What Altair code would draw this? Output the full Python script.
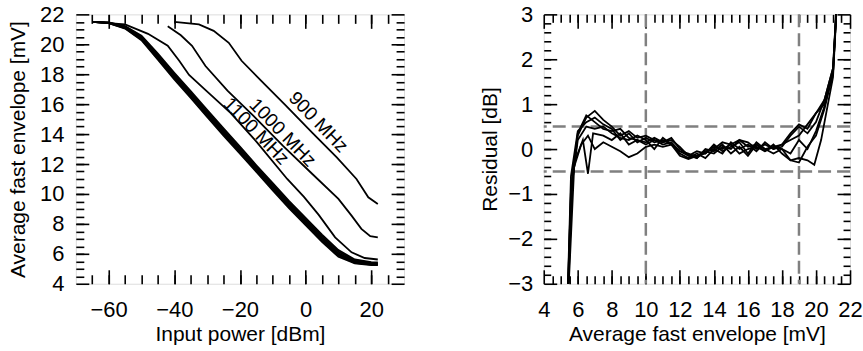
import altair as alt
import pandas as pd

FONT = "Liberation Sans"

# ---------------- left panel: average fast envelope vs input power ----------------
bundle_x = [-65, -60, -55, -50, -45, -40, -35, -30, -25, -20, -15, -10, -5, 0, 5, 10, 15, 20, 22]
bundle_1 = [21.5, 21.46, 21.22, 20.58, 19.38, 18.1, 16.87, 15.62, 14.38, 13.17, 11.92, 10.72, 9.52, 8.4, 7.28, 6.25, 5.62, 5.45, 5.42]
bundle_2 = [21.5, 21.45, 21.18, 20.5, 19.28, 18.0, 16.77, 15.52, 14.27, 13.07, 11.82, 10.62, 9.42, 8.3, 7.18, 6.15, 5.56, 5.4, 5.38]
bundle_3 = [21.5, 21.44, 21.15, 20.44, 19.2, 17.92, 16.67, 15.42, 14.17, 12.97, 11.72, 10.52, 9.32, 8.2, 7.08, 6.05, 5.5, 5.36, 5.34]
bundle_4 = [21.5, 21.43, 21.12, 20.38, 19.12, 17.82, 16.57, 15.32, 14.07, 12.87, 11.62, 10.42, 9.22, 8.1, 6.98, 5.96, 5.45, 5.32, 5.3]
bundle_5 = [21.5, 21.42, 21.08, 20.32, 19.04, 17.74, 16.49, 15.22, 13.99, 12.78, 11.54, 10.32, 9.12, 8.0, 6.88, 5.88, 5.4, 5.28, 5.27]
bundle_6 = [21.5, 21.41, 21.05, 20.27, 18.97, 17.66, 16.42, 15.14, 13.9, 12.7, 11.47, 10.24, 9.04, 7.92, 6.8, 5.8, 5.36, 5.25, 5.24]

f1100_x = [-65, -55, -48, -42, -38.5, -35.5, -30.8, -22.8, -14.8, -5.6, -0.5, 4, 9, 14, 18, 22]
f1100_y = [21.5, 21.33, 20.7, 19.9, 18.9, 17.95, 17.0, 15.4, 13.45, 11.0, 9.8, 8.6, 7.1, 6.1, 5.72, 5.62]

f1000_x = [-42, -38, -34.6, -30.5, -23.8, -15.8, -6.8, 1.5, 10, 14, 17, 19.7, 22]
f1000_y = [21.2, 20.6, 19.9, 18.55, 16.9, 15.2, 13.2, 11.45, 9.67, 8.55, 7.67, 7.18, 7.1]

f900_x = [-40, -32.5, -28, -23.4, -19.5, -13.5, -6.0, 2.0, 9.5, 15.5, 19.1, 22]
f900_y = [21.5, 21.33, 20.9, 20.1, 18.9, 17.55, 15.9, 14.1, 12.45, 11.0, 9.78, 9.33]

label_text = ["900 MHz", "1000 MHz", "1100 MHz"]
label_x = [3.9, -7.0, -15.1]
label_y = [14.8, 14.1, 14.2]

left_x_domain = [-70, 30]
left_y_domain = [4, 22]
left_x_major = [-60, -40, -20, 0, 20]
left_x_minor = [-65, -60, -55, -50, -45, -40, -35, -30, -25, -20, -15, -10, -5, 0, 5, 10, 15, 20, 25]
left_y_major = [4, 6, 8, 10, 12, 14, 16, 18, 20, 22]
left_y_minor = [4.5, 5, 5.5, 6, 6.5, 7, 7.5, 8, 8.5, 9, 9.5, 10, 10.5, 11, 11.5, 12, 12.5, 13, 13.5,
                14, 14.5, 15, 15.5, 16, 16.5, 17, 17.5, 18, 18.5, 19, 19.5, 20, 20.5, 21, 21.5]

# ---------------- right panel: residual vs average fast envelope ----------------
rA_x = [5.35, 5.6, 6.0, 6.5, 7.0, 7.5, 8.0, 8.5, 9.0, 9.5, 10.0, 10.5, 11.0, 11.5, 12.0, 12.5, 13.0, 13.5, 14.0, 14.5, 15.0, 15.5, 16.0, 16.5, 17.0, 17.5, 18.0, 18.5, 19.0, 19.5, 20.0, 20.5, 21.0, 21.4]
rA_y = [-4.0, -1.0, 0.3, 0.7, 0.85, 0.65, 0.5, 0.3, 0.4, 0.25, 0.3, 0.2, 0.15, 0.25, 0.0, -0.12, -0.15, -0.05, -0.1, 0.05, 0.0, 0.2, 0.05, 0.1, -0.05, 0.05, 0.1, 0.35, 0.55, 0.45, 0.8, 1.0, 1.7, 4.5]
rB_x = [5.35, 5.6, 6.0, 6.5, 7.0, 7.5, 8.0, 8.5, 9.0, 9.5, 10.0, 10.5, 11.0, 11.5, 12.0, 12.5, 13.0, 13.5, 14.0, 14.5, 15.0, 15.5, 16.0, 16.5, 17.0, 17.5, 18.0, 18.5, 19.0, 19.5, 20.0, 20.5, 21.0, 21.4]
rB_y = [-4.0, -0.6, 0.4, 0.6, 0.7, 0.55, 0.45, 0.2, 0.35, 0.15, 0.25, 0.15, 0.2, 0.1, -0.1, -0.2, -0.1, -0.2, 0.0, -0.1, 0.15, 0.0, 0.1, -0.05, 0.15, 0.0, 0.05, 0.3, 0.5, 0.35, 0.6, 1.1, 1.8, 4.5]
rC_x = [5.35, 5.8, 6.3, 6.6, 6.9, 7.5, 8.0, 8.5, 9.0, 9.5, 10.0, 10.5, 11.0, 11.5, 12.0, 12.5, 13.0, 13.5, 14.0, 14.5, 15.0, 15.5, 16.0, 16.5, 17.0, 17.5, 18.0, 18.5, 19.0, 19.5, 20.0, 20.5, 21.0, 21.4]
rC_y = [-4.0, -0.3, 0.2, -0.55, 0.35, 0.3, 0.2, 0.35, 0.1, 0.2, 0.1, 0.2, 0.1, 0.15, -0.05, -0.1, -0.2, 0.0, -0.05, 0.1, -0.1, 0.05, -0.15, 0.1, 0.0, -0.1, 0.0, -0.1, 0.2, 0.0, 0.4, 0.95, 1.7, 4.5]
rD_x = [5.35, 5.7, 6.2, 6.6, 7.0, 7.5, 8.0, 8.5, 9.0, 9.5, 10.0, 10.5, 11.0, 11.5, 12.0, 12.5, 13.0, 13.5, 14.0, 14.5, 15.0, 15.5, 16.0, 16.5, 17.0, 17.5, 18.0, 18.5, 19.0, 19.5, 19.9, 20.3, 20.7, 21.0, 21.4]
rD_y = [-4.0, -0.5, 0.1, 0.3, 0.0, 0.15, 0.05, -0.05, -0.18, -0.1, 0.05, 0.1, 0.05, 0.1, -0.15, -0.22, -0.15, -0.1, 0.05, 0.0, 0.1, -0.1, 0.0, 0.05, -0.05, 0.1, -0.1, -0.25, -0.2, -0.25, -0.35, 0.2, 1.0, 1.6, 4.5]
rE_x = [5.35, 5.65, 6.0, 6.5, 7.0, 7.5, 8.0, 8.5, 9.0, 9.5, 10.0, 10.5, 11.0, 11.5, 12.0, 12.5, 13.0, 13.5, 14.0, 14.5, 15.0, 15.5, 16.0, 16.5, 17.0, 17.5, 18.0, 18.5, 19.0, 19.5, 20.0, 20.5, 21.0, 21.4]
rE_y = [-4.0, -0.8, 0.2, 0.5, 0.45, 0.5, 0.35, 0.25, 0.2, 0.3, 0.2, 0.0, 0.25, 0.1, -0.05, -0.15, -0.05, -0.1, 0.1, -0.05, 0.05, 0.15, -0.1, 0.15, 0.0, 0.05, 0.0, -0.25, -0.3, 0.05, 0.3, 0.9, 1.7, 4.5]
rF_x = [5.35, 5.6, 6.0, 6.5, 7.0, 7.5, 8.0, 8.5, 9.0, 9.5, 10.0, 10.5, 11.0, 11.5, 12.0, 12.5, 13.0, 13.5, 14.0, 14.5, 15.0, 15.5, 16.0, 16.5, 17.0, 17.5, 18.0, 18.5, 19.0, 19.5, 20.0, 20.5, 21.0, 21.4]
rF_y = [-4.0, -0.9, 0.35, 0.75, 0.6, 0.45, 0.4, 0.45, 0.25, 0.2, 0.15, 0.25, 0.15, 0.2, 0.05, -0.15, -0.2, -0.05, 0.0, 0.15, 0.1, 0.2, 0.15, 0.0, 0.1, 0.0, 0.1, 0.2, 0.3, 0.55, 0.8, 1.1, 1.8, 4.5]

guide_x = [10, 19]
guide_y = [-0.5, 0.5]

right_x_domain = [4, 22]
right_y_domain = [-3, 3]
right_x_major = [4, 6, 8, 10, 12, 14, 16, 18, 20, 22]
right_x_minor = [4.5, 5, 5.5, 6, 6.5, 7, 7.5, 8, 8.5, 9, 9.5, 10, 10.5, 11, 11.5, 12, 12.5, 13, 13.5,
                 14, 14.5, 15, 15.5, 16, 16.5, 17, 17.5, 18, 18.5, 19, 19.5, 20, 20.5, 21, 21.5]
right_y_major = [-3, -2, -1, 0, 1, 2, 3]
right_y_minor = [-2.8, -2.6, -2.4, -2.2, -2, -1.8, -1.6, -1.4, -1.2, -1, -0.8, -0.6, -0.4, -0.2, 0,
                 0.2, 0.4, 0.6, 0.8, 1, 1.2, 1.4, 1.6, 1.8, 2, 2.2, 2.4, 2.6, 2.8]


def long_df(curves):
    rows = []
    for name, xs, ys in curves:
        for xv, yv in zip(xs, ys):
            rows.append({"curve": name, "x": xv, "y": yv})
    return pd.DataFrame(rows)


left_df = long_df([
    ("b1", bundle_x, bundle_1), ("b2", bundle_x, bundle_2), ("b3", bundle_x, bundle_3),
    ("b4", bundle_x, bundle_4), ("b5", bundle_x, bundle_5), ("b6", bundle_x, bundle_6),
    ("1100", f1100_x, f1100_y), ("1000", f1000_x, f1000_y), ("900", f900_x, f900_y),
])
label_df = pd.DataFrame({"text": label_text, "x": label_x, "y": label_y})

right_df = long_df([
    ("A", rA_x, rA_y), ("B", rB_x, rB_y), ("C", rC_x, rC_y),
    ("D", rD_x, rD_y), ("E", rE_x, rE_y), ("F", rF_x, rF_y),
])
vguide_df = pd.DataFrame({"x": guide_x})
hguide_df = pd.DataFrame({"y": guide_y})


def tick_axis(orient, values, size, labels=False, title=None, label_pad=0, title_pad=0):
    kw = dict(orient=orient, values=values, tickSize=size, offset=-size, domain=False,
              grid=False, ticks=True, tickColor="black", tickWidth=1.6, labels=labels,
              title=title)
    if labels:
        kw.update(labelFlush=False, labelOverlap=False, labelFont=FONT, labelFontSize=22,
                  labelColor="black", labelPadding=label_pad)
    if title:
        kw.update(titleFont=FONT, titleFontSize=21, titleFontWeight="normal",
                  titleColor="black", titlePadding=title_pad)
    return alt.Axis(**kw)


def panel(df, extra_under, extra_over, xdom, ydom, xmaj, xmin, ymaj, ymin, xtitle, ytitle,
          w, h, xt, yt, ylab_pad, ytitle_pad):
    xs = alt.Scale(domain=xdom, nice=False, zero=False)
    ys = alt.Scale(domain=ydom, nice=False, zero=False)
    base = alt.Chart(df)
    lines = base.mark_line(color="black", strokeWidth=1.8, clip=True).encode(
        x=alt.X("x:Q", scale=xs, axis=tick_axis("bottom", xmaj, xt[0], True, xtitle, 16, 3)),
        y=alt.Y("y:Q", scale=ys, axis=tick_axis("left", ymaj, yt[0], True, ytitle, ylab_pad, ytitle_pad)),
        detail="curve:N",
    )
    ghost = base.mark_point(opacity=0, clip=True)
    minor_bl = ghost.encode(
        x=alt.X("x:Q", scale=xs, axis=tick_axis("bottom", xmin, xt[1])),
        y=alt.Y("y:Q", scale=ys, axis=tick_axis("left", ymin, yt[1])),
    )
    major_tr = ghost.encode(
        x=alt.X("x:Q", scale=xs, axis=tick_axis("top", xmaj, xt[0])),
        y=alt.Y("y:Q", scale=ys, axis=tick_axis("right", ymaj, yt[0])),
    )
    minor_tr = ghost.encode(
        x=alt.X("x:Q", scale=xs, axis=tick_axis("top", xmin, xt[1])),
        y=alt.Y("y:Q", scale=ys, axis=tick_axis("right", ymin, yt[1])),
    )
    layers = list(extra_under(xs, ys)) + [lines, minor_bl, major_tr, minor_tr] + list(extra_over(xs, ys))
    return alt.layer(*layers).resolve_axis(x="independent", y="independent").properties(width=w, height=h)


def left_over(xs, ys):
    txt = alt.Chart(label_df).mark_text(angle=46, font=FONT, fontSize=19, color="black",
                                        align="center", baseline="middle").encode(
        x=alt.X("x:Q", scale=xs, axis=None),
        y=alt.Y("y:Q", scale=ys, axis=None),
        text="text:N",
    )
    return [txt]


def right_under(xs, ys):
    v = alt.Chart(vguide_df).mark_rule(color="#808080", strokeWidth=2.5, strokeDash=[13, 6]).encode(
        x=alt.X("x:Q", scale=xs, axis=None))
    hz = alt.Chart(hguide_df).mark_rule(color="#808080", strokeWidth=2.5, strokeDash=[13, 6]).encode(
        y=alt.Y("y:Q", scale=ys, axis=None))
    return [v, hz]


def nothing(xs, ys):
    return []


left = panel(left_df, nothing, left_over, left_x_domain, left_y_domain, left_x_major, left_x_minor,
             left_y_major, left_y_minor, "Input power [dBm]", "Average fast envelope [mV]",
             329, 270, (14, 9), (13, 8), 12, 11)
right = panel(right_df, right_under, nothing, right_x_domain, right_y_domain, right_x_major, right_x_minor,
              right_y_major, right_y_minor, "Average fast envelope [mV]", "Residual [dB]",
              307, 270, (14, 8), (13, 7), 11, 7)

chart = alt.hconcat(left, right, spacing=73).properties(
    padding={"left": 7, "top": 2, "right": 0, "bottom": 0}
).configure_view(stroke="black", strokeWidth=2).configure(background="white")

chart.save("out.html", embed_options={"renderer": "svg", "actions": False})
